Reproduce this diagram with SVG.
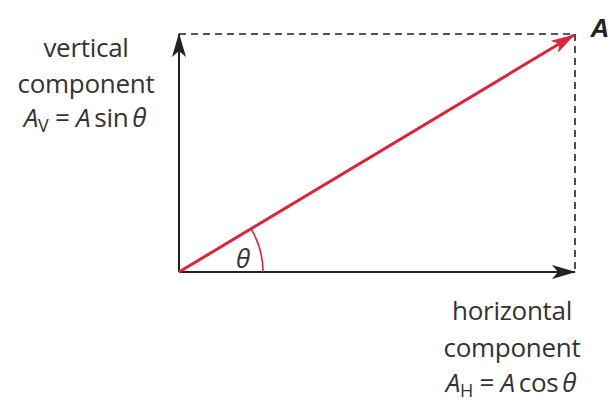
<svg xmlns="http://www.w3.org/2000/svg" width="613" height="401" viewBox="0 0 613 401">
<style>
.lbl{font-family:"Open Sans","Noto Sans",sans-serif;font-size:26px;fill:#333;text-anchor:middle;letter-spacing:-0.3px}
.it{font-style:italic}
.sub{font-size:18px}
.ax{stroke:#222;stroke-width:2;fill:none}
.dash{stroke:#222;stroke-width:1.6;stroke-dasharray:7,5;fill:none}
.red{stroke:#d8253c;stroke-width:3;fill:none}
</style>
<defs>
<marker id="ak" viewBox="0 0 24 14" refX="23" refY="7" markerWidth="24" markerHeight="14" markerUnits="userSpaceOnUse" orient="auto">
<path d="M0,0 L24,7 L0,14 L6,7 Z" fill="#222"/>
</marker>
<marker id="ar" viewBox="0 0 24 14" refX="23" refY="7" markerWidth="24" markerHeight="14" markerUnits="userSpaceOnUse" orient="auto">
<path d="M0,0 L24,7 L0,14 L6,7 Z" fill="#d8253c"/>
</marker>
</defs>
<g id="connectors">
<path class="dash" d="M179,34 H575 V272"/>
<line class="ax" x1="179" y1="272" x2="179" y2="34" marker-end="url(#ak)"/>
<line class="ax" x1="179" y1="272" x2="575" y2="272" marker-end="url(#ak)"/>
<line class="red" x1="179" y1="272" x2="574" y2="35" marker-end="url(#ar)"/>
<path d="M263,272 A84,84 0 0 0 251.1,228.9" stroke="#d8253c" stroke-width="1.6" fill="none"/>
</g>
<g id="vertical-label">
<text class="lbl" x="86" y="57">vertical</text>
<text class="lbl" x="86" y="93">component</text>
<text class="lbl" x="85" y="127"><tspan class="it">A</tspan><tspan class="sub" dy="5">V</tspan><tspan dy="-5"> = </tspan><tspan class="it">A</tspan><tspan dx="4">sin</tspan><tspan class="it" dx="4">θ</tspan></text>
</g>
<g id="horizontal-label">
<text class="lbl" x="512" y="320">horizontal</text>
<text class="lbl" x="512" y="357">component</text>
<text class="lbl" x="511" y="392"><tspan class="it">A</tspan><tspan class="sub" dy="5">H</tspan><tspan dy="-5"> = </tspan><tspan class="it">A</tspan><tspan dx="4">cos</tspan><tspan class="it" dx="4">θ</tspan></text>
</g>
<g id="vector-A">
<text x="600" y="37" style="font-family:'Liberation Sans',Arial,sans-serif;font-size:26px;font-weight:bold;font-style:italic;fill:#222" text-anchor="middle">A</text>
</g>
<g id="theta">
<text class="lbl it" x="243" y="268">θ</text>
</g>
</svg>
